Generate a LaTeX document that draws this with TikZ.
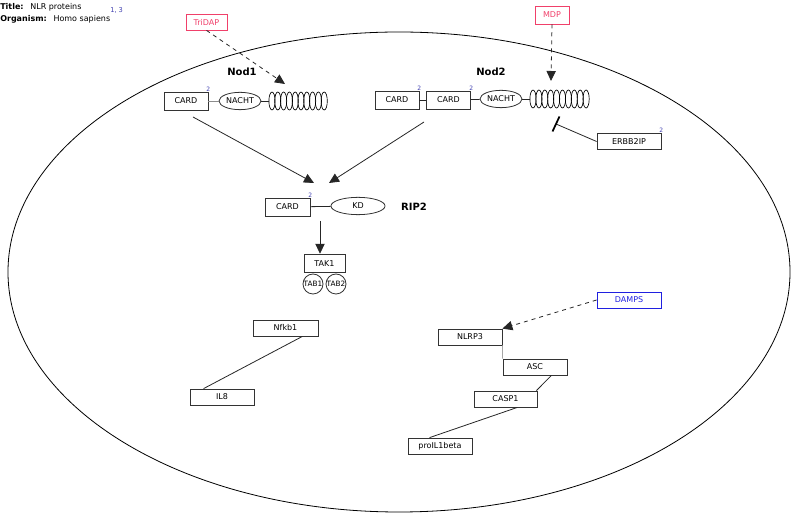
\documentclass[tikz,border=0pt]{standalone}
\usepackage{fontspec}
\setmainfont{DejaVu Sans}
\usetikzlibrary{arrows.meta}
\definecolor{pinkred}{HTML}{F0406A}
\definecolor{refblue}{HTML}{2020E0}
\definecolor{supblue}{HTML}{4040B0}
\tikzset{
  gene/.style={draw=black!80, line width=0.6pt, minimum height=13.5pt, inner sep=0pt, font=\fontsize{6}{7}\selectfont},
  dom/.style={draw=black!80, line width=0.6pt, ellipse, inner sep=0pt, font=\fontsize{6}{7}\selectfont},
  lbl/.style={font=\fontsize{7.5}{9}\selectfont\bfseries},
  sup/.style={text=supblue, font=\fontsize{4.5}{5}\selectfont, inner sep=0pt},
  conn/.style={line width=0.6pt, black!85},
  act/.style={conn, -{Triangle[length=7.5pt,width=7pt]}},
  dasharr/.style={conn, dashed, -{Triangle[length=7.5pt,width=7pt]}},
}
\usetikzlibrary{shapes.geometric}
\begin{document}
\begin{tikzpicture}[x=0.75pt,y=-0.75pt]
\useasboundingbox (0,0) rectangle (800,523);
% cell
\draw[line width=0.6pt] (399,272) ellipse [x radius=391, y radius=240];
% title
\node[anchor=west, inner sep=0pt, font=\fontsize{6}{7}\selectfont] (title) at (0,7) {\textbf{Title:}\hspace{5pt}NLR proteins};
\node[sup, anchor=west, font=\fontsize{5}{6}\selectfont] (titleref) at (110,10) {1, 3};
\node[anchor=west, inner sep=0pt, font=\fontsize{6}{7}\selectfont] (org) at (0,19) {\textbf{Organism:}\hspace{5pt}Homo sapiens};
% ligands
\node[gene, draw=pinkred, text=pinkred, minimum width=30.75pt, minimum height=12pt] (tridap) at (206.5,22) {TriDAP};
\node[gene, draw=pinkred, text=pinkred, minimum width=25.5pt, minimum height=13.5pt] (mdp) at (552,15) {MDP};
% Nod1
\node[lbl] (nod1) at (242,72) {Nod1};
\node[gene, minimum width=33pt] (card1) at (186,101) {CARD};
\node[sup, anchor=south west] (card1s) at (206,92) {2};
\node[dom, minimum width=31.5pt, minimum height=13pt] (nacht1) at (240,101) {NACHT};
\foreach \i in {0,...,9} {
  \draw[line width=0.5pt] (272+\i*5.8,101) ellipse [x radius=3.1, y radius=9];
}
\coordinate (lrr1) at (269,101);
\coordinate (lrr1t) at (285,84);
\draw[conn, black!45] (card1) -- (nacht1);
\draw[conn] (nacht1) -- (lrr1);
% Nod2
\node[lbl] (nod2) at (491,72) {Nod2};
\node[gene, minimum width=33pt] (card2a) at (397,100) {CARD};
\node[sup, anchor=south west] (card2as) at (417,91) {2};
\node[gene, minimum width=33pt] (card2b) at (448.5,100) {CARD};
\node[sup, anchor=south west] (card2bs) at (469,91) {2};
\node[dom, minimum width=31.5pt, minimum height=13pt] (nacht2) at (501,99) {NACHT};
\foreach \i in {0,...,9} {
  \draw[line width=0.5pt] (533+\i*5.9,99) ellipse [x radius=3.1, y radius=9];
}
\coordinate (lrr2) at (530,99);
\coordinate (lrr2t) at (551,81);
\draw[conn] (card2a) -- (card2b);
\draw[conn] (card2b) -- (nacht2);
\draw[conn] (nacht2) -- (lrr2);
% ERBB2IP
\node[gene, minimum width=48pt, minimum height=12.5pt] (erbb) at (629,141.5) {ERBB2IP};
\node[sup, anchor=south west] (erbbs) at (659,133) {2};
\coordinate (inhib) at (556,124);
\draw[conn] (erbb.west) -- (inhib);
\draw[line width=1.3pt] (552.5,131.5) -- (559.5,116.5);
% ligand arrows
\draw[dasharr] (tridap.south) -- (lrr1t);
\draw[dasharr] (mdp.south) -- (lrr2t);
% RIP2
\node[gene, minimum width=33.75pt] (card3) at (287.5,207) {CARD};
\node[sup, anchor=south west] (card3s) at (308,198) {2};
\node[dom, minimum width=40.5pt, minimum height=13pt] (kd) at (358,206) {KD};
\node[lbl] (rip2) at (414,207) {RIP2};
\draw[conn] (card3) -- (kd);
\coordinate (n1src) at (193,117);
\coordinate (n2src) at (424,122);
\coordinate (riptop1) at (314,183);
\coordinate (riptop2) at (329,183);
\draw[act] (n1src) -- (riptop1);
\draw[act] (n2src) -- (riptop2);
% TAK1
\node[gene, minimum width=30.75pt, minimum height=14pt] (tak1) at (324.5,263.5) {TAK1};
\node[dom, circle, minimum size=15pt, font=\fontsize{5.5}{6}\selectfont] (tab1) at (313,284) {TAB1};
\node[dom, circle, minimum size=15pt, font=\fontsize{5.5}{6}\selectfont] (tab2) at (336,284) {TAB2};
\coordinate (ripbot) at (320,221);
\draw[act] (ripbot) -- (tak1.north -| ripbot);
% Nfkb1 / IL8
\node[gene, minimum width=48.75pt, minimum height=12pt] (nfkb1) at (285.5,328) {Nfkb1};
\node[gene, minimum width=48pt, minimum height=12pt] (il8) at (222,397) {IL8};
\draw[conn] ([xshift=-12pt]nfkb1.south east) -- ([xshift=10.5pt]il8.north west);
% inflammasome
\node[gene, minimum width=48pt, minimum height=12pt] (nlrp3) at (470,337) {NLRP3};
\node[gene, draw=refblue, text=refblue, minimum width=48pt, minimum height=12pt] (damps) at (629,300) {DAMPS};
\node[gene, minimum width=48pt, minimum height=12pt] (asc) at (535,367) {ASC};
\node[gene, minimum width=47.25pt, minimum height=12pt] (casp1) at (505.5,399) {CASP1};
\node[gene, minimum width=48pt, minimum height=12pt] (proil) at (440,446) {proIL1beta};
\draw[dasharr] (damps.west) -- (nlrp3.north east);
\draw[conn, black!35] (nlrp3.south east) -- (asc.north west);
\draw[conn] ([xshift=-12pt]asc.south east) -- ([xshift=-0.75pt]casp1.north east);
\draw[conn] ([xshift=-15pt]casp1.south east) -- ([xshift=16.5pt]proil.north west);
\end{tikzpicture}
\end{document}
